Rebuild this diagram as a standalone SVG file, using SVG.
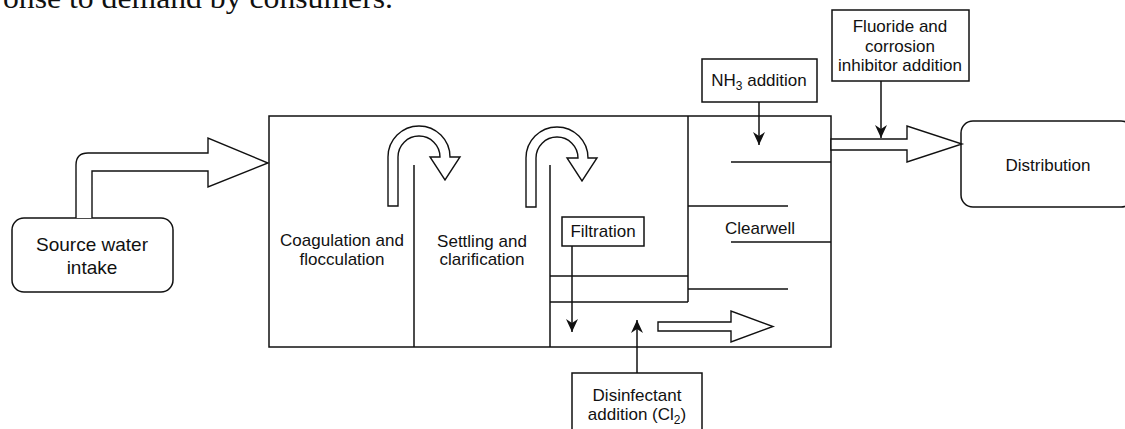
<svg xmlns="http://www.w3.org/2000/svg" width="1125" height="429" viewBox="0 0 1125 429">
<style>
.s{fill:none;stroke:#111;stroke-width:1.5}
.w{fill:#fff;stroke:#111;stroke-width:1.4;stroke-linejoin:miter}
.t{font-family:"Liberation Sans",Arial,Helvetica,sans-serif;font-size:17px;fill:#111;text-anchor:middle}
.big{font-size:19px}
.ln{stroke:#111;stroke-width:1.5;fill:none}
</style>
<defs>
<marker id="ah" viewBox="0 0 10 10" refX="10" refY="5" markerWidth="13" markerHeight="12" markerUnits="userSpaceOnUse" orient="auto" preserveAspectRatio="none">
<path d="M0,0 L10,5 L0,10 L3,5 Z" fill="#111"/>
</marker>
</defs>
<rect width="1125" height="429" fill="#fff"/>
<text x="3" y="8" font-family="Liberation Serif,Times New Roman,serif" font-size="30" fill="#111" textLength="390" lengthAdjust="spacingAndGlyphs">onse to demand by consumers.</text>

<g id="plant">
<rect x="269" y="116" width="562" height="231" class="s"/>
<line x1="414" y1="165" x2="414" y2="347" class="ln"/>
<line x1="550" y1="165" x2="550" y2="347" class="ln"/>
<line x1="688" y1="116" x2="688" y2="302" class="ln"/>
<line x1="550" y1="276" x2="688" y2="276" class="ln"/>
<line x1="550" y1="302" x2="688" y2="302" class="ln"/>
<line x1="731" y1="162" x2="831" y2="162" class="ln"/>
<line x1="688" y1="206" x2="788" y2="206" class="ln"/>
<line x1="731" y1="242" x2="831" y2="242" class="ln"/>
<line x1="688" y1="289" x2="788" y2="289" class="ln"/>
<path class="w" d="M388,206 L388,157 A31,31 0 0 1 450,157 L460,157 L445,180 L430,157 L440,157 A21,21 0 0 0 398,157 L398,206 Z"/>
<path class="w" d="M526,207 L526,158 A31,31 0 0 1 588,158 L597,158 L582,181 L567,158 L578,158 A21,21 0 0 0 536,158 L536,207 Z"/>
<polygon class="w" points="658,322 731,322 731,311 773,326.5 731,342 731,331 658,331"/>
<text class="t" x="342" y="246">Coagulation and</text>
<text class="t" x="342" y="265">flocculation</text>
<text class="t" x="482" y="247">Settling and</text>
<text class="t" x="482" y="265">clarification</text>
<text class="t" x="760" y="234">Clearwell</text>
</g>

<g id="source">
<rect x="12" y="218" width="161" height="74" rx="12" class="s"/>
<text class="t big" x="92" y="251">Source water</text>
<text class="t big" x="92" y="274">intake</text>
</g>

<g id="filtration">
<rect x="562" y="217" width="82" height="29" class="s"/>
<text class="t" x="603" y="237">Filtration</text>
</g>

<g id="nh3">
<rect x="702" y="59" width="115" height="43" class="s"/>
<text class="t" x="759" y="86">NH<tspan font-size="12" dy="4">3</tspan><tspan dy="-4"> addition</tspan></text>
</g>

<g id="fluoride">
<rect x="832" y="10" width="137" height="71" class="s"/>
<text class="t" x="900" y="32">Fluoride and</text>
<text class="t" x="900" y="52">corrosion</text>
<text class="t" x="900" y="71">inhibitor addition</text>
</g>

<g id="disinfectant">
<rect x="572" y="373" width="130" height="70" class="s"/>
<text class="t" x="637" y="401">Disinfectant</text>
<text class="t" x="637" y="420">addition (Cl<tspan font-size="12" dy="4">2</tspan><tspan dy="-4">)</tspan></text>
</g>

<g id="distribution">
<rect x="961" y="121" width="172" height="86" rx="12" class="s"/>
<text class="t" x="1048" y="171">Distribution</text>
</g>

<g id="connectors">
<path class="w" d="M76,218 L76,165 Q76,153 88,153 L208,153 L208,138 L268,163 L208,187 L208,171 L92,171 L92,218"/>
<polygon class="w" points="831,139 907,139 907,126 962,144 907,162 907,150 831,150"/>
<line x1="759" y1="102" x2="759" y2="145" class="ln" marker-end="url(#ah)"/>
<line x1="881" y1="81" x2="881" y2="138" class="ln" marker-end="url(#ah)"/>
<line x1="572" y1="246" x2="572" y2="332" class="ln" marker-end="url(#ah)"/>
<line x1="637" y1="373" x2="637" y2="320" class="ln" marker-end="url(#ah)"/>
</g>
</svg>
